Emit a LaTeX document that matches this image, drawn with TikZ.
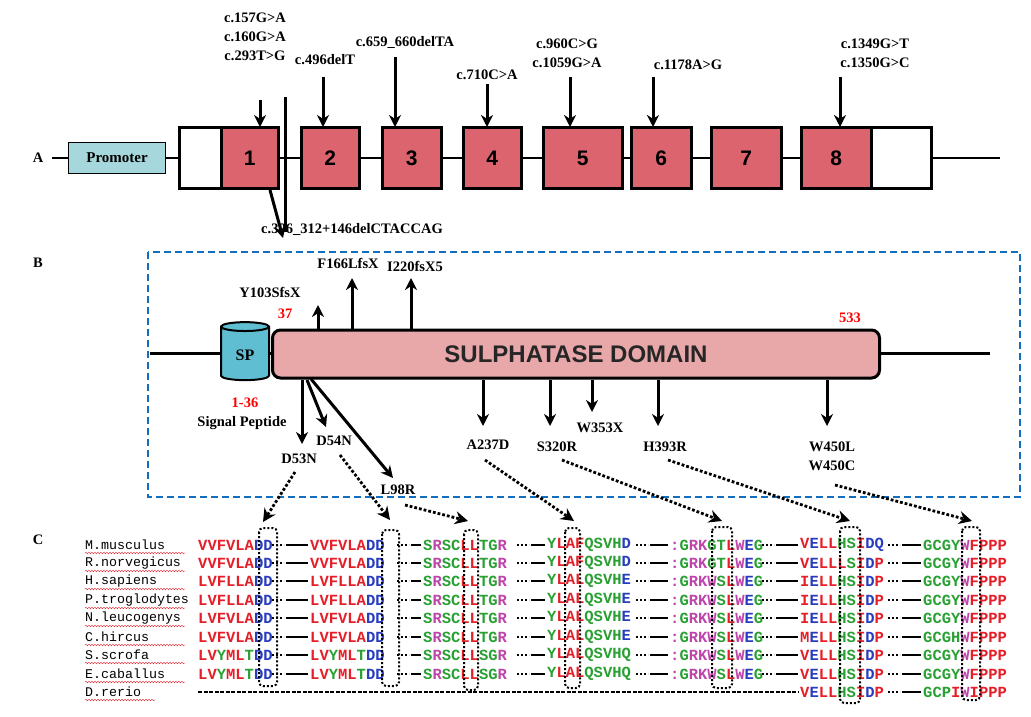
\documentclass[tikz,border=0pt]{standalone}
\usepackage{fontspec}
\setmainfont{Liberation Serif}
\newfontfamily\mono{Liberation Mono}
\newfontfamily\sans{Liberation Sans}
\usetikzlibrary{arrows.meta,shapes.geometric,decorations.pathmorphing}
\definecolor{sr}{RGB}{230,30,40}
\definecolor{sg}{RGB}{40,160,50}
\definecolor{sb}{RGB}{40,60,190}
\definecolor{sm}{RGB}{190,70,170}
\definecolor{exon}{RGB}{220,100,110}
\definecolor{prom}{RGB}{165,215,220}
\definecolor{dom}{RGB}{232,168,170}
\definecolor{spc}{RGB}{95,190,210}
\definecolor{boxb}{RGB}{20,110,190}
\newcommand\R[1]{\textcolor{sr}{#1}}
\newcommand\G[1]{\textcolor{sg}{#1}}
\newcommand\B[1]{\textcolor{sb}{#1}}
\newcommand\M[1]{\textcolor{sm}{#1}}
\tikzset{
 lab/.style={font=\bfseries\fontsize{14.5}{16}\selectfont, inner sep=1pt},
 arr/.style={line width=3pt, -{Stealth[length=12pt,width=12pt]}},
 ex/.style={draw, line width=2.5pt, minimum height=61pt, anchor=west, font=\bfseries\sans\fontsize{21}{21}\selectfont},
 seq/.style={anchor=west, inner sep=0pt, font=\mono\bfseries\fontsize{15.5}{15}\selectfont},
 nm/.style={anchor=west, inner sep=0pt, font=\mono\fontsize{13.3}{14}\selectfont},
 dotar/.style={line width=2.8pt, dotted, -{Stealth[length=13pt,width=13pt]}},
 colbox/.style={draw, line width=2pt, dotted, rounded corners=4pt},
}
\newcommand\seqrow[9]{%
 \node[nm] at (85,#1) {#2};
 \draw[sr, decorate, decoration={snake,amplitude=0.8pt,segment length=3pt}] (85,#1+8) -- +(100,0);
 \node[seq] at (198,#1) {#3};
 \node[seq] at (310,#1) {#4};
 \node[seq] at (423,#1) {#5};
 \node[seq] at (547,#1) {#6};
 \node[seq] at (670,#1) {#7};
 \node[seq] at (800,#1) {#8};
 \node[seq] at (923,#1) {#9};
 \foreach \a/\b in {272/310,397/423,517/547,636/670,762/800,888/923}{
  \draw[line width=2pt, dotted] (\a,#1) -- (\a+12,#1);
  \draw[line width=2pt] (\a+14,#1) -- (\b-2,#1);}
}
\begin{document}
\begin{tikzpicture}[x=1pt,y=-1pt]
\useasboundingbox (0,0) rectangle (1031,717);
% ---------- A
\node[lab] (la) at (38,158) {A};
\draw[line width=1.5pt] (52,158) -- (1000,158);
\node[draw, fill=prom, line width=1.2pt, minimum width=97pt, minimum height=31pt, anchor=west, font=\fontsize{15}{15}\selectfont\bfseries] (prom) at (68,158) {Promoter};
\node[ex, fill=white, minimum width=42pt] (u5) at (178,158) {};
\node[ex, fill=exon, minimum width=57pt] (e1) at (220,158) {1};
\node[ex, fill=exon, minimum width=58pt] (e2) at (300,158) {2};
\node[ex, fill=exon, minimum width=59pt] (e3) at (381,158) {3};
\node[ex, fill=exon, minimum width=58pt] (e4) at (462,158) {4};
\node[ex, fill=exon, minimum width=79pt] (e5) at (542,158) {5};
\node[ex, fill=exon, minimum width=60pt] (e6) at (630,158) {6};
\node[ex, fill=exon, minimum width=70pt] (e7) at (710,158) {7};
\node[ex, fill=exon, minimum width=70pt] (e8) at (800,158) {8};
\node[ex, fill=white, minimum width=60pt] (u3) at (870,158) {};
\node[lab, align=center] (m1) at (255,37) {c.157G>A\\[3pt]c.160G>A\\[3pt]c.293T>G};
\draw[arr] (260,100) -- (260,127);
\node[lab] (m2) at (325,60) {c.496delT};
\draw[arr] (323,77) -- (323,127);
\node[lab] (m3) at (405,42) {c.659\_660delTA};
\draw[arr] (395,57) -- (395,127);
\node[lab] (m4) at (487,75) {c.710C>A};
\draw[arr] (487,84) -- (487,127);
\node[lab, align=center] (m5) at (567,53) {c.960C>G\\[3pt]c.1059G>A};
\draw[arr] (570,77) -- (570,127);
\node[lab] (m6) at (688,65) {c.1178A>G};
\draw[arr] (653,77) -- (653,127);
\node[lab, align=center] (m8) at (875,53) {c.1349G>T\\[3pt]c.1350G>C};
\draw[arr] (840,77) -- (840,127);
\draw[line width=3pt] (285,97) -- (285,232);
\draw[arr] (270,190) -- (283,238);
\node[lab] (m7) at (352,229) {c.306\_312+146delCTACCAG};
% ---------- B
\node[lab] (lb) at (38,263) {B};
\draw[boxb, line width=2.5pt, dash pattern=on 7pt off 4pt] (148,252) rectangle (1020,497);
\draw[line width=3pt] (150,353) -- (990,353);
\node[cylinder, shape border rotate=90, draw, line width=2pt, fill=spc, minimum width=48pt, minimum height=58pt, aspect=0.35, font=\bfseries\fontsize{16}{16}\selectfont] (sp) at (245,355) {SP};
\node[draw, line width=3pt, fill=dom, rounded corners=8pt, minimum width=607pt, minimum height=48pt, font=\sans\bfseries\fontsize{24}{24}\selectfont, text=black!85] (dom) at (576,354) {SULPHATASE DOMAIN};
\node[lab, text=red] at (285,314) {37};
\node[lab, text=red] at (850,318) {533};
\node[lab, text=red] at (245,403) {1-36};
\node[lab] at (242,423) {Signal Peptide};
\draw[arr] (318,330) -- (318,305); \node[lab] at (270,292) {Y103SfsX};
\draw[arr] (352,330) -- (352,278); \node[lab] at (348,263) {F166LfsX};
\draw[arr] (411,330) -- (411,278); \node[lab] at (415,266) {I220fsX5};
\draw[arr] (302,380) -- (302,444); \node[lab] (d53) at (299,459) {D53N};
\draw[arr] (307,380) -- (326,427); \node[lab] (d54) at (334,441) {D54N};
\draw[arr] (311,379) -- (393,478); \node[lab] (l98) at (398,490) {L98R};
\draw[arr] (483,380) -- (483,426); \node[lab] (a237) at (488,445) {A237D};
\draw[arr] (550,380) -- (550,426); \node[lab] (s320) at (557,447) {S320R};
\draw[arr] (592,380) -- (592,412); \node[lab] at (600,428) {W353X};
\draw[arr] (658,380) -- (658,426); \node[lab] (h393) at (665,447) {H393R};
\draw[arr] (827,380) -- (827,426); \node[lab, align=center] (w450) at (832,456) {W450L\\[3pt]W450C};
% dotted connectors
\draw[dotar] (295,472) -- (263,522);
\draw[dotar] (340,455) -- (390,520);
\draw[dotar] (405,505) -- (468,521);
\draw[dotar] (485,460) -- (574,521);
\draw[dotar] (562,460) -- (722,521);
\draw[dotar] (668,460) -- (850,521);
\draw[dotar] (835,485) -- (972,521);
% ---------- C
\node[lab] (lc) at (38,540) {C};
\seqrow{545}{M.musculus}{\R{VVFVLA}\B{DD}}{\R{VVFVLA}\B{DD}}{\G{S}\M{R}\G{SC}\R{LL}\G{TG}\M{R}}{\G{Y}\R{LAF}\G{QSVH}\B{D}}{\M{:}\G{G}\M{RK}\G{GT}\R{L}\M{W}\B{E}\G{G}}{\R{V}\B{E}\R{LL}\G{HS}\R{I}\B{DQ}}{\G{GCGY}\M{W}\R{FPPP}}
\seqrow{563}{R.norvegicus}{\R{VVFVLA}\B{DD}}{\R{VVFVLA}\B{DD}}{\G{S}\M{R}\G{SC}\R{LL}\G{TG}\M{R}}{\G{Y}\R{LAF}\G{QSVH}\B{D}}{\M{:}\G{G}\M{RK}\G{GT}\R{L}\M{W}\B{E}\G{G}}{\R{V}\B{E}\R{LLL}\G{S}\R{I}\B{D}\R{P}}{\G{GCGY}\M{W}\R{FPPP}}
\seqrow{581}{H.sapiens}{\R{LVFLLA}\B{DD}}{\R{LVFLLA}\B{DD}}{\G{S}\M{R}\G{SC}\R{LL}\G{TG}\M{R}}{\G{Y}\R{LAL}\G{QSVH}\B{E}}{\M{:}\G{G}\M{RKW}\G{S}\R{L}\M{W}\B{E}\G{G}}{\R{I}\B{E}\R{LL}\G{HS}\R{I}\B{D}\R{P}}{\G{GCGY}\M{W}\R{FPPP}}
\seqrow{600}{P.troglodytes}{\R{LVFLLA}\B{DD}}{\R{LVFLLA}\B{DD}}{\G{S}\M{R}\G{SC}\R{LL}\G{TG}\M{R}}{\G{Y}\R{LAL}\G{QSVH}\B{E}}{\M{:}\G{G}\M{RKW}\G{S}\R{L}\M{W}\B{E}\G{G}}{\R{I}\B{E}\R{LL}\G{HS}\R{I}\B{D}\R{P}}{\G{GCGY}\M{W}\R{FPPP}}
\seqrow{618}{N.leucogenys}{\R{LVFVLA}\B{DD}}{\R{LVFVLA}\B{DD}}{\G{S}\M{R}\G{SC}\R{LL}\G{TG}\M{R}}{\G{Y}\R{LAL}\G{QSVH}\B{E}}{\M{:}\G{G}\M{RKW}\G{S}\R{L}\M{W}\B{E}\G{G}}{\R{I}\B{E}\R{LL}\G{HS}\R{I}\B{D}\R{P}}{\G{GCGY}\M{W}\R{FPPP}}
\seqrow{637}{C.hircus}{\R{LVFVLA}\B{DD}}{\R{LVFVLA}\B{DD}}{\G{S}\M{R}\G{SC}\R{LL}\G{TG}\M{R}}{\G{Y}\R{LAL}\G{QSVH}\B{E}}{\M{:}\G{G}\M{RKW}\G{S}\R{L}\M{W}\B{E}\G{G}}{\R{M}\B{E}\R{LL}\G{HS}\R{I}\B{D}\R{P}}{\G{GCGH}\M{W}\R{FPPP}}
\seqrow{655}{S.scrofa}{\R{LV}\G{Y}\R{ML}\G{T}\B{DD}}{\R{LV}\G{Y}\R{ML}\G{T}\B{DD}}{\G{S}\M{R}\G{SC}\R{LL}\G{SG}\M{R}}{\G{Y}\R{LAL}\G{QSVHQ}}{\M{:}\G{G}\M{RKW}\G{S}\R{L}\M{W}\B{E}\G{G}}{\R{V}\B{E}\R{LL}\G{HS}\R{I}\B{D}\R{P}}{\G{GCGY}\M{W}\R{FPPP}}
\seqrow{674}{E.caballus}{\R{LV}\G{Y}\R{ML}\G{T}\B{DD}}{\R{LV}\G{Y}\R{ML}\G{T}\B{DD}}{\G{S}\M{R}\G{SC}\R{LL}\G{SG}\M{R}}{\G{Y}\R{LAL}\G{QSVHQ}}{\M{:}\G{G}\M{RKW}\G{S}\R{L}\M{W}\B{E}\G{G}}{\R{V}\B{E}\R{LL}\G{HS}\R{I}\B{D}\R{P}}{\G{GCGY}\M{W}\R{FPPP}}
% D.rerio
\node[nm] at (85,692) {D.rerio};
\draw[sr, decorate, decoration={snake,amplitude=0.8pt,segment length=3pt}] (85,700) -- +(70,0);
\draw[line width=2.2pt, dash pattern=on 4pt off 1.5pt] (198,692) -- (798,692);
\node[seq] at (800,692) {\R{V}\B{E}\R{LL}\G{HS}\R{I}\B{D}\R{P}};
\draw[line width=2pt, dotted] (888,692) -- (900,692);
\draw[line width=2pt] (902,692) -- (921,692);
\node[seq] at (923,692) {\G{GCP}\R{I}\M{W}\R{IPPP}};
% column boxes
\draw[colbox] (259,528) rectangle (277,686);
\draw[colbox] (382,530) rectangle (399,686);
\draw[colbox] (464,530) rectangle (478,690);
\draw[colbox] (565,528) rectangle (580,688);
\draw[colbox] (712,527) rectangle (732,688);
\draw[colbox] (840,527) rectangle (860,703);
\draw[colbox] (962,527) rectangle (980,700);
\end{tikzpicture}
\end{document}
